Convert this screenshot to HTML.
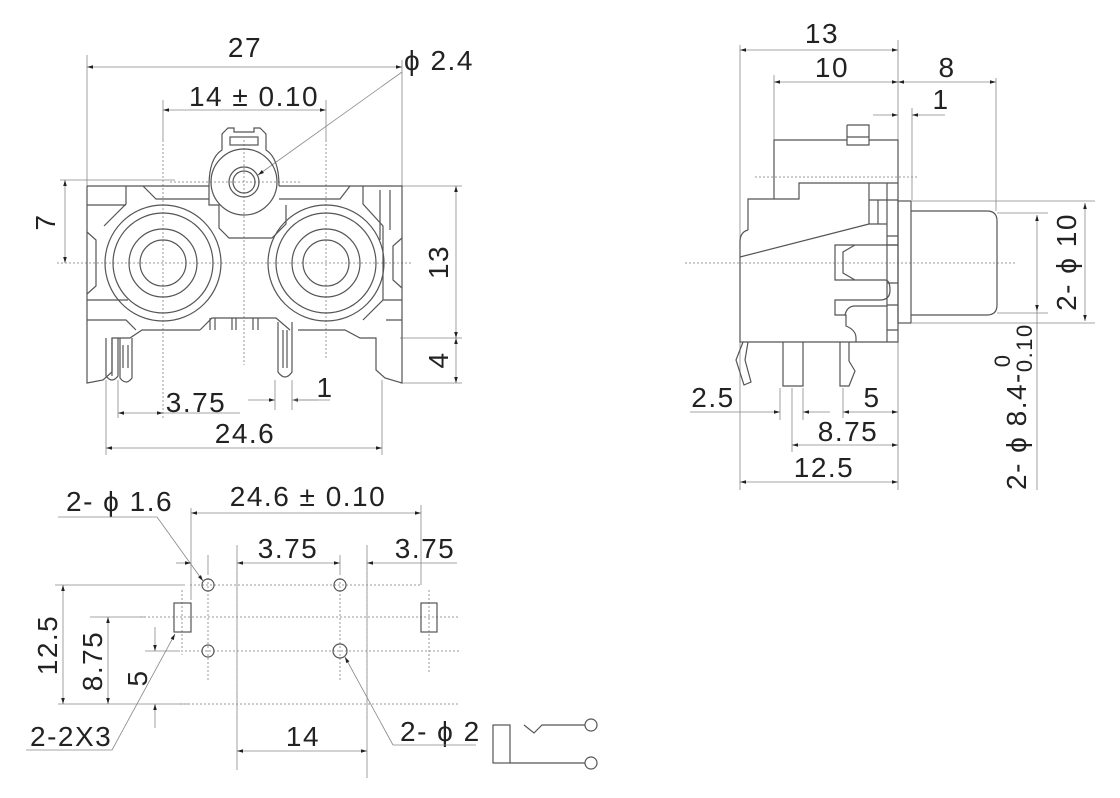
<!DOCTYPE html>
<html><head><meta charset="utf-8"><style>
html,body{margin:0;padding:0;background:#fff}
svg{display:block}
text{font-family:"Liberation Sans",sans-serif;fill:#222;font-size:28px;letter-spacing:1.5px}
.l{stroke:#444;stroke-width:1;fill:none}
.t{stroke:#888;stroke-width:0.8;fill:none}
.d{stroke:#999;stroke-width:1;fill:none;stroke-dasharray:2 2}
.o{stroke:#555;stroke-width:1.2;fill:none}
</style></head><body>
<svg width="1120" height="798" viewBox="0 0 1120 798" xmlns="http://www.w3.org/2000/svg">
<defs>
<marker id="a" viewBox="0 0 10 10" refX="10" refY="5" markerWidth="9" markerHeight="6" orient="auto-start-reverse" markerUnits="userSpaceOnUse"><path d="M0,2 L10,5 L0,8z" fill="#222"/></marker>
</defs>

<!-- ===== FRONT VIEW ===== -->
<g>
<line class="t" x1="87" y1="55" x2="87" y2="186"/>
<line class="t" x1="402" y1="60" x2="402" y2="186"/>
<line class="t" x1="87" y1="67" x2="402" y2="67" marker-start="url(#a)" marker-end="url(#a)"/>
<text x="245" y="57" text-anchor="middle">27</text>
<text x="404" y="70">ϕ 2.4</text>
<line class="t" x1="402" y1="72" x2="258" y2="175" marker-end="url(#a)"/>
<line class="t" x1="163" y1="100" x2="163" y2="140"/>
<line class="t" x1="326" y1="100" x2="326" y2="140"/>
<line class="t" x1="163" y1="110" x2="326" y2="110" marker-start="url(#a)" marker-end="url(#a)"/>
<text x="254" y="106" text-anchor="middle">14 ± 0.10</text>
<line class="t" x1="60" y1="180" x2="175" y2="180"/>
<line class="t" x1="65" y1="180" x2="65" y2="263" marker-start="url(#a)" marker-end="url(#a)"/>
<text transform="translate(55,222) rotate(-90)" text-anchor="middle">7</text>
<line class="t" x1="402" y1="186" x2="462" y2="186"/>
<line class="t" x1="400" y1="338" x2="462" y2="338"/>
<line class="t" x1="400" y1="383" x2="462" y2="383"/>
<line class="t" x1="456" y1="186" x2="456" y2="338" marker-start="url(#a)" marker-end="url(#a)"/>
<line class="t" x1="456" y1="338" x2="456" y2="383" marker-start="url(#a)" marker-end="url(#a)"/>
<text transform="translate(448,262) rotate(-90)" text-anchor="middle">13</text>
<text transform="translate(448,360) rotate(-90)" text-anchor="middle">4</text>

<line class="d" x1="57" y1="263" x2="412" y2="263"/>
<line class="d" x1="170" y1="182" x2="300" y2="182"/>
<line class="d" x1="163" y1="140" x2="163" y2="420"/>
<line class="d" x1="326" y1="140" x2="326" y2="360"/>
<line class="d" x1="244" y1="140" x2="244" y2="365"/>

<path class="o" d="M87,186 H209 M279,186 H402 V383 L385,378 376,370 V338 H360 L345,330 H298 M87,186 V383 L103,380 112,372 V338 H130 L142,330 H200"/>
<path class="o" d="M87,205 H126 M87,232 L96,240 V286 L87,294 M87,300 H128 M87,320 H126 L136,330"/>
<path class="o" d="M126,186 V204 L104,226 M143,186 L156,199 H209 M279,199 H340 L350,186 M363,186 V204 L383,226 V300 L363,320 M380,190 V240 M390,190 V230 M402,238 L393,246 V280 L402,288 M383,300 H402 M386,320 H402"/>
<path class="o" d="M209,186 V205 H219 V228 L229,238 H272 L286,224 V205 M200,330 L212,318 H276 L290,330 M210,318 V330 M215,318 V330 M232,318 V330 M236,318 V330 M253,318 V330 M258,318 V330"/>
<path class="o" d="M209,186 Q209,158 222,150 V134 L228,128 H234 V132 H254 V128 H260 L266,134 V150 Q279,158 279,186"/>
<rect class="o" x="230" y="137" width="28" height="8"/>
<circle class="o" cx="244" cy="182" r="33"/>
<circle class="o" cx="244" cy="182" r="15"/>
<circle class="o" cx="244" cy="182" r="11"/>
<circle class="o" cx="163" cy="263" r="58"/>
<circle class="o" cx="163" cy="263" r="50"/>
<circle class="o" cx="163" cy="263" r="34"/>
<circle class="o" cx="163" cy="263" r="23"/>
<circle class="o" cx="326" cy="263" r="58"/>
<circle class="o" cx="326" cy="263" r="50"/>
<circle class="o" cx="326" cy="263" r="34"/>
<circle class="o" cx="326" cy="263" r="23"/>
<path class="o" d="M106,338 V376 Q112,384 118,376 V338 M112,338 V376 M120,338 V378 Q126,386 132,378 V338 M123,345 V368 M128,345 V368"/>
<path class="o" d="M278,322 V372 Q285,382 292,372 V322 M283,330 V368 M287,330 V368"/>
<line class="t" x1="118" y1="380" x2="118" y2="418"/>
<line class="t" x1="275" y1="380" x2="275" y2="410"/>
<line class="t" x1="292" y1="380" x2="292" y2="410"/>
<line class="t" x1="118" y1="413" x2="163" y2="413" marker-start="url(#a)" marker-end="url(#a)"/>
<line class="t" x1="163" y1="413" x2="240" y2="413"/>
<text x="196" y="412" text-anchor="middle">3.75</text>
<line class="t" x1="248" y1="400" x2="275" y2="400" marker-end="url(#a)"/>
<line class="t" x1="318" y1="400" x2="292" y2="400" marker-end="url(#a)"/>
<line class="t" x1="292" y1="400" x2="330" y2="400"/>
<text x="325" y="397" text-anchor="middle">1</text>
<line class="t" x1="106" y1="380" x2="106" y2="455"/>
<line class="t" x1="382" y1="380" x2="382" y2="455"/>
<line class="t" x1="106" y1="448" x2="382" y2="448" marker-start="url(#a)" marker-end="url(#a)"/>
<text x="245" y="443" text-anchor="middle">24.6</text>
</g>

<!-- ===== SIDE VIEW ===== -->
<g>
<line class="t" x1="740" y1="45" x2="740" y2="490"/>
<line class="t" x1="898" y1="40" x2="898" y2="140"/>
<line class="t" x1="898" y1="342" x2="898" y2="490"/>
<line class="t" x1="774" y1="75" x2="774" y2="140"/>
<line class="t" x1="996" y1="78" x2="996" y2="211"/>
<line class="t" x1="912" y1="108" x2="912" y2="200"/>
<line class="t" x1="740" y1="50" x2="898" y2="50" marker-start="url(#a)" marker-end="url(#a)"/>
<text x="822" y="43" text-anchor="middle">13</text>
<line class="t" x1="774" y1="82" x2="898" y2="82" marker-start="url(#a)" marker-end="url(#a)"/>
<text x="832" y="77" text-anchor="middle">10</text>
<line class="t" x1="898" y1="82" x2="996" y2="82" marker-start="url(#a)" marker-end="url(#a)"/>
<text x="947" y="77" text-anchor="middle">8</text>
<line class="t" x1="873" y1="115" x2="898" y2="115" marker-end="url(#a)"/>
<line class="t" x1="945" y1="115" x2="912" y2="115" marker-end="url(#a)"/>
<text x="941" y="109" text-anchor="middle">1</text>

<line class="d" x1="685" y1="263" x2="1015" y2="263"/>
<line class="d" x1="755" y1="177" x2="918" y2="177"/>

<path class="o" d="M774,199 V140 H847 V145 H869 V140 H898 V342 H855 M847,125 H869 V145 M847,125 V145 M847,137 H869"/>
<path class="o" d="M748,230 V199 H799 V183 H869 V224 M869,183 H898 M887,183 V342 M869,200 H898 M869,224 H887 M878,200 V224"/>
<path class="o" d="M748,230 Q740,232 740,242 V342 H855 M740,257 L869,224"/>
<path class="o" d="M887,236 H898 M887,245 H898 M887,283 H898 M887,305 H898 M887,330 H898"/>
<path class="o" d="M898,245 H835 V280 H885 Q890,280 890,290 Q890,300 880,300 H835 V315 H846 V326 Q856,330 856,338 V342 M855,245 L843,252 V273 L855,280 M845,315 Q847,306 855,306 H887"/>
<rect class="o" x="898" y="201" width="13" height="122"/>
<path class="o" d="M911,211 H987 Q997,211 997,221 V305 Q997,315 987,315 H911"/>
<path class="o" d="M783,342 V386 H803 V342"/>
<path class="o" d="M840,342 V386 H849 L855,371 L849,361 V342"/>
<path class="o" d="M743,342 L736,360 L744,385 L751,382 L745,360 L748,342"/>
<line class="t" x1="780" y1="388" x2="780" y2="420"/>
<line class="t" x1="792" y1="388" x2="792" y2="452"/>
<line class="t" x1="803" y1="388" x2="803" y2="420"/>
<line class="t" x1="843" y1="388" x2="843" y2="418"/>
<line class="t" x1="690" y1="412" x2="780" y2="412" marker-end="url(#a)"/>
<line class="t" x1="830" y1="412" x2="803" y2="412" marker-end="url(#a)"/>
<text x="713" y="407" text-anchor="middle">2.5</text>
<line class="t" x1="843" y1="412" x2="898" y2="412" marker-start="url(#a)" marker-end="url(#a)"/>
<text x="872" y="407" text-anchor="middle">5</text>
<line class="t" x1="792" y1="445" x2="898" y2="445" marker-start="url(#a)" marker-end="url(#a)"/>
<text x="848" y="441" text-anchor="middle">8.75</text>
<line class="t" x1="740" y1="482" x2="898" y2="482" marker-start="url(#a)" marker-end="url(#a)"/>
<text x="824" y="477" text-anchor="middle">12.5</text>
<line class="t" x1="911" y1="201" x2="1095" y2="201"/>
<line class="t" x1="911" y1="323" x2="1095" y2="323"/>
<line class="t" x1="997" y1="213" x2="1048" y2="213"/>
<line class="t" x1="997" y1="313" x2="1048" y2="313"/>
<line class="t" x1="1085" y1="203" x2="1085" y2="321" marker-start="url(#a)" marker-end="url(#a)"/>
<text transform="translate(1076,262) rotate(-90)" text-anchor="middle">2- ϕ 10</text>
<line class="t" x1="1037" y1="215" x2="1037" y2="311" marker-start="url(#a)" marker-end="url(#a)"/>
<line class="t" x1="1037" y1="311" x2="1037" y2="490"/>
<text transform="translate(1026,490) rotate(-90)">2- ϕ 8.4-<tspan font-size="22" dy="6">0.10</tspan><tspan font-size="22" dx="-44" dy="-22">0</tspan></text>
</g>

<!-- ===== FOOTPRINT ===== -->
<g>
<text x="66" y="511">2- ϕ 1.6</text>
<line class="t" x1="58" y1="517" x2="157" y2="517"/>
<line class="t" x1="157" y1="517" x2="203" y2="581" marker-end="url(#a)"/>
<line class="t" x1="191" y1="508" x2="191" y2="600"/>
<line class="t" x1="421" y1="505" x2="421" y2="585"/>
<line class="t" x1="191" y1="513" x2="421" y2="513" marker-start="url(#a)" marker-end="url(#a)"/>
<text x="308" y="506" text-anchor="middle">24.6 ± 0.10</text>
<line class="t" x1="176" y1="563" x2="191" y2="563" marker-end="url(#a)"/>
<line class="t" x1="208" y1="555" x2="208" y2="575"/>
<line class="t" x1="237" y1="545" x2="237" y2="770"/>
<line class="t" x1="367" y1="545" x2="367" y2="778"/>
<line class="t" x1="237" y1="563" x2="340" y2="563" marker-start="url(#a)" marker-end="url(#a)"/>
<line class="t" x1="340" y1="555" x2="340" y2="575"/>
<text x="288" y="558" text-anchor="middle">3.75</text>
<line class="t" x1="367" y1="563" x2="457" y2="563" marker-start="url(#a)"/>
<text x="425" y="558" text-anchor="middle">3.75</text>
<line class="d" x1="190" y1="585" x2="421" y2="585"/>
<line class="d" x1="140" y1="617" x2="460" y2="617"/>
<line class="d" x1="185" y1="651" x2="460" y2="651"/>
<line class="d" x1="180" y1="704" x2="460" y2="704"/>
<line class="d" x1="208" y1="578" x2="208" y2="680"/>
<line class="d" x1="340" y1="578" x2="340" y2="680"/>
<line class="d" x1="237" y1="560" x2="237" y2="720"/>
<line class="d" x1="367" y1="560" x2="367" y2="720"/>
<line class="d" x1="182" y1="590" x2="182" y2="655"/>
<line class="d" x1="429" y1="590" x2="429" y2="672"/>
<circle class="o" cx="208" cy="585" r="6"/>
<circle class="o" cx="340" cy="585" r="6"/>
<circle class="o" cx="208" cy="651" r="6"/>
<circle class="o" cx="340" cy="651" r="7"/>
<rect class="o" x="174" y="603" width="17" height="29"/>
<rect class="o" x="421" y="603" width="16" height="29"/>
<line class="t" x1="55" y1="585" x2="185" y2="585"/>
<line class="t" x1="90" y1="617" x2="145" y2="617"/>
<line class="t" x1="58" y1="704" x2="190" y2="704"/>
<line class="t" x1="145" y1="651" x2="180" y2="651"/>
<line class="t" x1="63" y1="585" x2="63" y2="704" marker-start="url(#a)" marker-end="url(#a)"/>
<text transform="translate(57,645) rotate(-90)" text-anchor="middle">12.5</text>
<line class="t" x1="108" y1="617" x2="108" y2="704" marker-start="url(#a)" marker-end="url(#a)"/>
<text transform="translate(102,661) rotate(-90)" text-anchor="middle">8.75</text>
<line class="t" x1="155" y1="627" x2="155" y2="651" marker-end="url(#a)"/>
<line class="t" x1="155" y1="728" x2="155" y2="704" marker-end="url(#a)"/>
<text transform="translate(147,678) rotate(-90)" text-anchor="middle">5</text>
<text x="30" y="746">2-2X3</text>
<line class="t" x1="26" y1="750" x2="112" y2="750"/>
<line class="t" x1="112" y1="750" x2="175" y2="634" marker-end="url(#a)"/>
<line class="t" x1="237" y1="751" x2="367" y2="751" marker-start="url(#a)" marker-end="url(#a)"/>
<text x="303" y="746" text-anchor="middle">14</text>
<text x="400" y="741">2- ϕ 2</text>
<line class="t" x1="393" y1="745" x2="476" y2="745"/>
<line class="t" x1="393" y1="745" x2="345" y2="657" marker-end="url(#a)"/>
<rect class="o" x="493" y="725" width="17" height="38"/>
<path class="o" d="M510,763 H585 M524,725 L534,733 L542,725 H585"/>
<circle class="o" cx="591" cy="725" r="6"/>
<circle class="o" cx="591" cy="763" r="6"/>
</g>
</svg>
</body></html>
